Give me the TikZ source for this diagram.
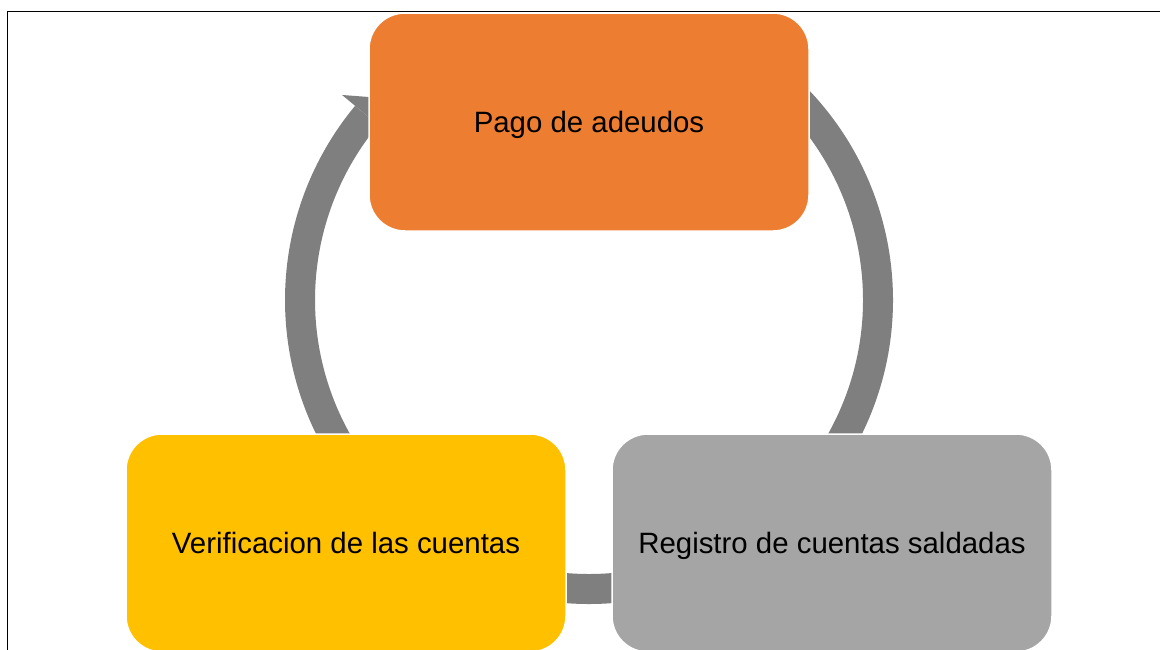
\documentclass[tikz,border=0pt]{standalone}
\usepackage{fontspec}
\setmainfont{Liberation Sans}
\definecolor{orangebox}{HTML}{ED7D31}
\definecolor{yellowbox}{HTML}{FFC000}
\definecolor{graybox}{HTML}{A5A5A5}
\definecolor{arrowgray}{HTML}{7F7F7F}
\begin{document}
\begin{tikzpicture}[x=1pt,y=1pt,
  stagebox/.style={rectangle, rounded corners=36pt, minimum width=440pt, minimum height=218pt,
    draw=white, line width=1.5pt, text=black, font=\fontsize{29.4}{35}\selectfont, inner sep=0pt,
    text height=21pt, text depth=0pt},
  cyclearc/.style={draw=arrowgray, line width=30pt, line cap=butt}]
\useasboundingbox (0,0) rectangle (1160,-649);
\clip (0,0) rectangle (1160,-649);
\fill[white] (0,0) rectangle (1160,-649);
% frame
\draw[black, line width=1.8pt] (7.5,-660) -- (7.5,-11.5) -- (1170,-11.5);
\coordinate (C) at (589,-300);
% cycle arrows
\begin{scope}[shift={(589,-300)}]
  \draw[cyclearc] (215:289) arc[start angle=215, end angle=140.3, radius=289];
  \fill[arrowgray] (140.3:321) -- (135.7:289.2) -- (140.3:257) -- cycle;
  \draw[cyclearc] (47:289) arc[start angle=47, end angle=-32, radius=289];
  \draw[cyclearc] (-80:289) arc[start angle=-80, end angle=-100, radius=289];
\end{scope}
% boxes
\node[stagebox, fill=orangebox] (pago) at (589,-122) {Pago de adeudos};
\node[stagebox, fill=yellowbox] (verif) at (346,-543) {Verificacion de las cuentas};
\node[stagebox, fill=graybox] (reg) at (832,-543) {Registro de cuentas saldadas};
\end{tikzpicture}
\end{document}
